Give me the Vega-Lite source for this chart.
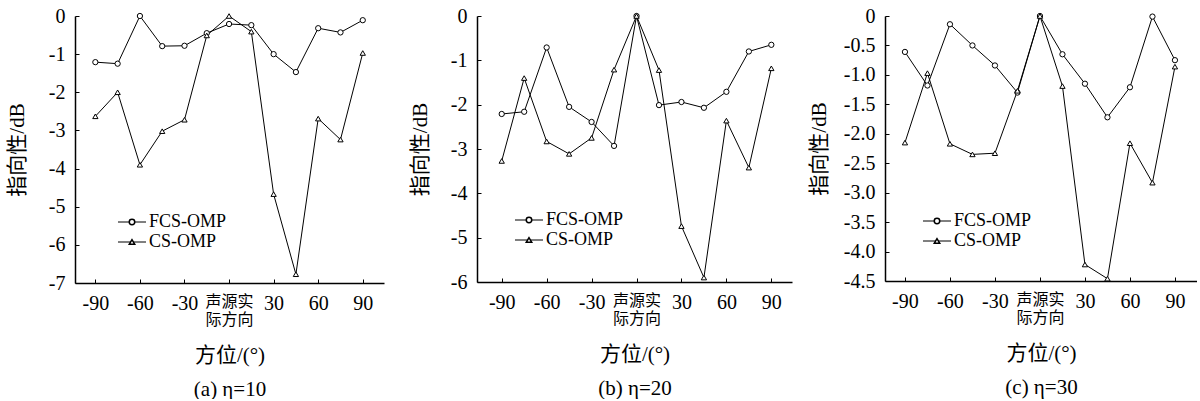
{
  "$schema": "https://vega.github.io/schema/vega-lite/v6.json",
  "padding": {"left": 6, "top": 6, "right": 0, "bottom": 0},
  "bounds": "flush",
  "spacing": 93,
  "resolve": {"scale": {"shape": "independent", "color": "independent"}, "legend": {"shape": "independent", "color": "independent"}},
  "config": {
    "view": {"stroke": null},
    "font": "Liberation Serif, Noto Sans CJK SC",
    "axis": {
      "domainColor": "black", "domainWidth": 1.5,
      "tickColor": "black", "tickWidth": 1, "tickSize": -4,
      "labelColor": "black", "titleColor": "black", "grid": false,
      "labelFont": "Liberation Serif, Noto Sans CJK SC",
      "titleFont": "Liberation Serif, Noto Sans CJK SC",
      "labelFontSize": 20, "titleFontSize": 21, "titleFontWeight": "normal",
      "labelOverlap": false, "labelFlush": false
    },
    "axisX": {"labelPadding": 14, "labelLineHeight": 18, "labelAngle": 0, "titleBaseline": "top", "titleY": 61, "titleLineHeight": 34},
    "axisY": {"labelPadding": 14, "titleAngle": 270, "titleBaseline": "middle", "titleAlign": "center"},
    "legend": {
      "labelFont": "Liberation Serif", "labelFontSize": 18, "labelColor": "black", "labelOffset": 8
    }
  },
  "datasets": {
    "a": [
      {"az": -90, "m": "FCS-OMP", "v": -1.21}, {"az": -75, "m": "FCS-OMP", "v": -1.25}, {"az": -60, "m": "FCS-OMP", "v": 0},
      {"az": -45, "m": "FCS-OMP", "v": -0.79}, {"az": -30, "m": "FCS-OMP", "v": -0.78}, {"az": -15, "m": "FCS-OMP", "v": -0.45},
      {"az": 0, "m": "FCS-OMP", "v": -0.21}, {"az": 15, "m": "FCS-OMP", "v": -0.24}, {"az": 30, "m": "FCS-OMP", "v": -1.0},
      {"az": 45, "m": "FCS-OMP", "v": -1.47}, {"az": 60, "m": "FCS-OMP", "v": -0.32}, {"az": 75, "m": "FCS-OMP", "v": -0.43},
      {"az": 90, "m": "FCS-OMP", "v": -0.11},
      {"az": -90, "m": "CS-OMP", "v": -2.63}, {"az": -75, "m": "CS-OMP", "v": -2.0}, {"az": -60, "m": "CS-OMP", "v": -3.9},
      {"az": -45, "m": "CS-OMP", "v": -3.02}, {"az": -30, "m": "CS-OMP", "v": -2.72}, {"az": -15, "m": "CS-OMP", "v": -0.51},
      {"az": 0, "m": "CS-OMP", "v": 0}, {"az": 15, "m": "CS-OMP", "v": -0.41}, {"az": 30, "m": "CS-OMP", "v": -4.67},
      {"az": 45, "m": "CS-OMP", "v": -6.77}, {"az": 60, "m": "CS-OMP", "v": -2.69}, {"az": 75, "m": "CS-OMP", "v": -3.24},
      {"az": 90, "m": "CS-OMP", "v": -0.97}
    ],
    "b": [
      {"az": -90, "m": "FCS-OMP", "v": -2.21}, {"az": -75, "m": "FCS-OMP", "v": -2.16}, {"az": -60, "m": "FCS-OMP", "v": -0.71},
      {"az": -45, "m": "FCS-OMP", "v": -2.05}, {"az": -30, "m": "FCS-OMP", "v": -2.39}, {"az": -15, "m": "FCS-OMP", "v": -2.93},
      {"az": 0, "m": "FCS-OMP", "v": 0}, {"az": 15, "m": "FCS-OMP", "v": -2.01}, {"az": 30, "m": "FCS-OMP", "v": -1.94},
      {"az": 45, "m": "FCS-OMP", "v": -2.07}, {"az": 60, "m": "FCS-OMP", "v": -1.71}, {"az": 75, "m": "FCS-OMP", "v": -0.8},
      {"az": 90, "m": "FCS-OMP", "v": -0.65},
      {"az": -90, "m": "CS-OMP", "v": -3.27}, {"az": -75, "m": "CS-OMP", "v": -1.4}, {"az": -60, "m": "CS-OMP", "v": -2.83},
      {"az": -45, "m": "CS-OMP", "v": -3.11}, {"az": -30, "m": "CS-OMP", "v": -2.75}, {"az": -15, "m": "CS-OMP", "v": -1.21},
      {"az": 0, "m": "CS-OMP", "v": 0}, {"az": 15, "m": "CS-OMP", "v": -1.22}, {"az": 30, "m": "CS-OMP", "v": -4.74},
      {"az": 45, "m": "CS-OMP", "v": -5.9}, {"az": 60, "m": "CS-OMP", "v": -2.36}, {"az": 75, "m": "CS-OMP", "v": -3.42},
      {"az": 90, "m": "CS-OMP", "v": -1.18}
    ],
    "c": [
      {"az": -90, "m": "FCS-OMP", "v": -0.61}, {"az": -75, "m": "FCS-OMP", "v": -1.18}, {"az": -60, "m": "FCS-OMP", "v": -0.14},
      {"az": -45, "m": "FCS-OMP", "v": -0.5}, {"az": -30, "m": "FCS-OMP", "v": -0.84}, {"az": -15, "m": "FCS-OMP", "v": -1.3},
      {"az": 0, "m": "FCS-OMP", "v": 0}, {"az": 15, "m": "FCS-OMP", "v": -0.65}, {"az": 30, "m": "FCS-OMP", "v": -1.15},
      {"az": 45, "m": "FCS-OMP", "v": -1.72}, {"az": 60, "m": "FCS-OMP", "v": -1.21}, {"az": 75, "m": "FCS-OMP", "v": -0.01},
      {"az": 90, "m": "FCS-OMP", "v": -0.75},
      {"az": -90, "m": "CS-OMP", "v": -2.15}, {"az": -75, "m": "CS-OMP", "v": -0.97}, {"az": -60, "m": "CS-OMP", "v": -2.17},
      {"az": -45, "m": "CS-OMP", "v": -2.35}, {"az": -30, "m": "CS-OMP", "v": -2.33}, {"az": -15, "m": "CS-OMP", "v": -1.27},
      {"az": 0, "m": "CS-OMP", "v": 0}, {"az": 15, "m": "CS-OMP", "v": -1.19}, {"az": 30, "m": "CS-OMP", "v": -4.22},
      {"az": 45, "m": "CS-OMP", "v": -4.46}, {"az": 60, "m": "CS-OMP", "v": -2.16}, {"az": 75, "m": "CS-OMP", "v": -2.83},
      {"az": 90, "m": "CS-OMP", "v": -0.86}
    ]
  },
  "hconcat": [
    {
      "width": 309, "height": 267,
      "data": {"name": "a"},
      "encoding": {
        "x": {"field": "az", "type": "quantitative", "scale": {"domain": [-103.7, 104.3], "nice": false, "zero": false},
          "axis": {"values": [-90, -60, -30, 0, 30, 60, 90], "title": ["方位/(°)", "(a) η=10"],
            "labelExpr": "datum.value === 0 ? ['声源实', '际方向'] : datum.value + ''",
            "labelFontSize": {"condition": {"test": "datum.value === 0", "value": 16}, "value": 20}}},
        "y": {"field": "v", "type": "quantitative", "scale": {"domain": [-7, 0], "nice": false, "zero": false},
          "axis": {"values": [-7, -6, -5, -4, -3, -2, -1, 0], "title": "指向性/dB", "titleX": -57.4, "titleY": 133.5,
            "labelExpr": "datum.value + ''"}}
      },
      "layer": [
        {"mark": {"type": "line", "strokeWidth": 1},
          "encoding": {"color": {"field": "m", "type": "nominal", "sort": ["FCS-OMP", "CS-OMP"], "scale": {"range": ["black", "black"]},
            "legend": {"orient": "none", "title": null, "legendX": 48, "legendY": 197, "symbolType": "M-4.67,0L4.67,0", "symbolSize": 36, "symbolStrokeWidth": 1, "labelOpacity": 0}}}},
        {"mark": {"type": "point", "fill": "white", "stroke": "black", "strokeWidth": 1, "opacity": 1, "size": 28},
          "encoding": {"shape": {"field": "m", "type": "nominal",
            "scale": {"domain": ["FCS-OMP", "CS-OMP"], "range": ["circle", "triangle-up"]},
            "legend": {"orient": "none", "title": null, "legendX": 48, "legendY": 197, "symbolSize": 30}}}}
      ]
    },
    {
      "width": 315, "height": 266,
      "data": {"name": "b"},
      "encoding": {
        "x": {"field": "az", "type": "quantitative", "scale": {"domain": [-106.5, 103.8], "nice": false, "zero": false},
          "axis": {"values": [-90, -60, -30, 0, 30, 60, 90], "title": ["方位/(°)", "(b) η=20"],
            "labelExpr": "datum.value === 0 ? ['声源实', '际方向'] : datum.value + ''",
            "labelFontSize": {"condition": {"test": "datum.value === 0", "value": 16}, "value": 20}}},
        "y": {"field": "v", "type": "quantitative", "scale": {"domain": [-6, 0], "nice": false, "zero": false},
          "axis": {"values": [-6, -5, -4, -3, -2, -1, 0], "title": "指向性/dB", "titleX": -56.4, "titleY": 133,
            "labelExpr": "datum.value + ''"}}
      },
      "layer": [
        {"mark": {"type": "line", "strokeWidth": 1},
          "encoding": {"color": {"field": "m", "type": "nominal", "sort": ["FCS-OMP", "CS-OMP"], "scale": {"range": ["black", "black"]},
            "legend": {"orient": "none", "title": null, "legendX": 43, "legendY": 195, "symbolType": "M-4.67,0L4.67,0", "symbolSize": 36, "symbolStrokeWidth": 1, "labelOpacity": 0}}}},
        {"mark": {"type": "point", "fill": "white", "stroke": "black", "strokeWidth": 1, "opacity": 1, "size": 28},
          "encoding": {"shape": {"field": "m", "type": "nominal",
            "scale": {"domain": ["FCS-OMP", "CS-OMP"], "range": ["circle", "triangle-up"]},
            "legend": {"orient": "none", "title": null, "legendX": 43, "legendY": 195, "symbolSize": 30}}}}
      ]
    },
    {
      "width": 312, "height": 265,
      "data": {"name": "c"},
      "encoding": {
        "x": {"field": "az", "type": "quantitative", "scale": {"domain": [-103.3, 104.7], "nice": false, "zero": false},
          "axis": {"values": [-90, -60, -30, 0, 30, 60, 90], "title": ["方位/(°)", "(c) η=30"],
            "labelExpr": "datum.value === 0 ? ['声源实', '际方向'] : datum.value + ''",
            "labelFontSize": {"condition": {"test": "datum.value === 0", "value": 16}, "value": 20}}},
        "y": {"field": "v", "type": "quantitative", "scale": {"domain": [-4.5, 0], "nice": false, "zero": false},
          "axis": {"values": [-4.5, -4, -3.5, -3, -2.5, -2, -1.5, -1, -0.5, 0], "title": "指向性/dB", "titleX": -65.7, "titleY": 132.5,
            "labelExpr": "datum.value === 0 ? '0' : (datum.value % 1 === 0 ? datum.value + '.0' : datum.value + '')"}}
      },
      "layer": [
        {"mark": {"type": "line", "strokeWidth": 1},
          "encoding": {"color": {"field": "m", "type": "nominal", "sort": ["FCS-OMP", "CS-OMP"], "scale": {"range": ["black", "black"]},
            "legend": {"orient": "none", "title": null, "legendX": 43, "legendY": 196, "symbolType": "M-4.67,0L4.67,0", "symbolSize": 36, "symbolStrokeWidth": 1, "labelOpacity": 0}}}},
        {"mark": {"type": "point", "fill": "white", "stroke": "black", "strokeWidth": 1, "opacity": 1, "size": 28},
          "encoding": {"shape": {"field": "m", "type": "nominal",
            "scale": {"domain": ["FCS-OMP", "CS-OMP"], "range": ["circle", "triangle-up"]},
            "legend": {"orient": "none", "title": null, "legendX": 43, "legendY": 196, "symbolSize": 30}}}}
      ]
    }
  ]
}
